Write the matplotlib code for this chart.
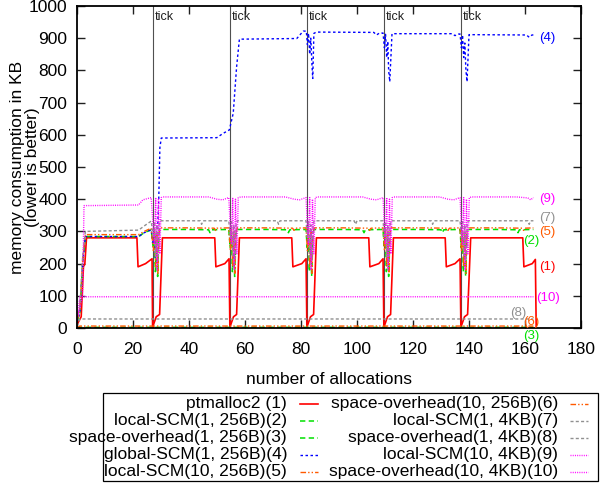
import matplotlib
matplotlib.use("Agg")
import matplotlib.pyplot as plt
from matplotlib.lines import Line2D
from matplotlib.patches import Rectangle

plt.rcParams['font.family'] = ['Liberation Sans', 'DejaVu Sans']

# ---------------- data ----------------
tick_x = [27, 54.5, 82, 109.5, 137]

x1 = [0, 1.5, 2.3, 2.8, 3.4, 21.4, 21.8, 24.5, 26.8,
      27.0, 27.3, 28.3, 29.5, 30.5, 49.2, 49.6, 52.8, 54.3,
      54.6, 54.9, 55.9, 57.0, 58.0, 76.7, 77.1, 80.3, 81.8,
      82.1, 82.4, 83.4, 84.5, 85.5, 104.2, 104.6, 107.8, 109.3,
      109.6, 109.9, 110.9, 112.0, 113.0, 131.5, 131.9, 135.0, 136.8,
      137.1, 137.4, 138.4, 139.5, 140.6, 159.2, 159.6, 162.6, 163.7, 164.0]
y1 = [10, 35, 190, 200, 280, 280, 190, 200, 215,
      0, 10, 35, 42, 280, 280, 190, 200, 215,
      0, 10, 35, 42, 280, 280, 190, 200, 215,
      0, 10, 35, 42, 280, 280, 190, 200, 215,
      0, 10, 35, 42, 280, 280, 190, 200, 215,
      0, 10, 35, 42, 280, 280, 190, 200, 213, 0]

x2 = [0, 1, 2, 3, 22, 24, 26.5,
      27.2, 27.6, 28.0, 28.4, 28.8, 29.2, 29.6, 40, 47, 47.5, 48, 54.2,
      54.7, 55.1, 55.5, 55.9, 56.3, 56.7, 57.1, 68, 75, 75.5, 76, 81.8,
      82.2, 82.6, 83.0, 83.4, 83.8, 84.2, 84.6, 95, 102, 102.5, 103, 109.3,
      109.7, 110.1, 110.5, 110.9, 111.3, 111.7, 112.1, 123, 130, 130.5, 131, 136.8,
      137.2, 137.6, 138.0, 138.4, 138.8, 139.2, 139.6, 150, 157, 157.5, 158, 163]
y2 = [20, 45, 200, 284, 284, 296, 305,
      250, 300, 175, 290, 160, 290, 306, 306, 305, 296, 305, 306,
      250, 300, 175, 290, 160, 290, 306, 306, 305, 296, 305, 306,
      250, 300, 175, 290, 160, 290, 306, 306, 305, 296, 305, 306,
      250, 300, 175, 290, 160, 290, 306, 306, 305, 296, 305, 306,
      250, 300, 175, 290, 160, 290, 306, 306, 305, 296, 305, 306]

x3 = [0, 1, 163]
y3 = [0, 2, 2]

x4 = [0, 1, 2, 3, 22, 24, 26.5,
      27.2, 27.6, 28.0, 28.4, 28.8, 29.2, 29.6, 30.1, 49.9, 52.3, 54.4,
      55.8, 57.0, 58.0, 78.5, 80.8, 81.9,
      82.3, 82.7, 83.1, 83.5, 83.9, 84.2, 84.6, 85.5, 106, 107, 108, 109.3,
      109.8, 110.2, 110.6, 111.0, 111.3, 111.7, 112.5, 134, 135, 136, 136.8,
      137.3, 137.7, 138.1, 138.5, 138.9, 139.3, 140, 160.5, 161.5, 162.5, 163]
y4 = [20, 45, 200, 284, 284, 296, 305,
      260, 300, 220, 300, 310, 400, 560, 590, 591, 605, 615,
      667, 811, 897, 899, 922, 922,
      880, 915, 850, 900, 820, 775, 915, 919, 918, 910, 916, 916,
      870, 912, 840, 890, 800, 765, 914, 914, 908, 913, 913,
      870, 910, 840, 885, 800, 765, 911, 910, 903, 910, 910]

x5 = [0, 1, 2, 3, 22, 24, 26.5,
      27.3, 27.7, 28.1, 28.5, 28.9, 29.3, 29.7, 40, 49, 49.5, 50, 54.2,
      54.8, 55.2, 55.6, 56.0, 56.4, 56.8, 57.2, 68, 77, 77.5, 78, 81.8,
      82.3, 82.7, 83.1, 83.5, 83.9, 84.3, 84.7, 95, 104, 104.5, 105, 109.3,
      109.8, 110.2, 110.6, 111.0, 111.4, 111.8, 112.2, 123, 132, 132.5, 133, 136.8,
      137.3, 137.7, 138.1, 138.5, 138.9, 139.3, 139.7, 150, 159, 159.5, 160, 163]
y5 = [25, 50, 210, 290, 290, 300, 310,
      240, 305, 190, 300, 170, 295, 311, 311, 310, 303, 310, 311,
      240, 305, 190, 300, 170, 295, 311, 311, 310, 303, 310, 311,
      240, 305, 190, 300, 170, 295, 311, 311, 310, 303, 310, 311,
      240, 305, 190, 300, 170, 295, 311, 311, 310, 303, 310, 311,
      240, 305, 190, 300, 170, 295, 311, 311, 310, 303, 310, 311]

x6 = [0, 1, 163]
y6 = [0, 6, 6]

x7 = [0, 1, 2, 3, 22, 24.5, 26.5,
      27.3, 27.7, 28.1, 28.5, 28.9, 29.3, 29.7, 40, 44, 44.5, 45, 54.2,
      54.8, 55.2, 55.6, 56.0, 56.4, 56.8, 57.2, 68, 71.5, 72, 72.5, 81.8,
      82.3, 82.7, 83.1, 83.5, 83.9, 84.3, 84.7, 95, 99, 99.5, 100, 109.3,
      109.8, 110.2, 110.6, 111.0, 111.4, 111.8, 112.2, 123, 126.5, 127, 127.5, 136.8,
      137.3, 137.7, 138.1, 138.5, 138.9, 139.3, 139.7, 150, 161, 161.5, 162, 163]
y7 = [30, 60, 220, 300, 304, 320, 332,
      280, 330, 220, 320, 210, 320, 333, 333, 333, 322, 333, 333,
      280, 330, 220, 320, 210, 320, 333, 333, 333, 322, 333, 333,
      280, 330, 220, 320, 210, 320, 333, 333, 333, 322, 333, 333,
      280, 330, 220, 320, 210, 320, 333, 333, 333, 322, 333, 333,
      280, 330, 220, 320, 210, 320, 333, 333, 333, 322, 333, 333]

x8 = [0, 1, 163]
y8 = [5, 28, 28]

x9 = [0, 1, 2, 2.5, 22, 23.5, 26.5,
      27.6, 28.1, 28.6, 29.1, 29.6, 30.1, 31, 47, 50, 52, 54.2,
      55.1, 55.6, 56.1, 56.6, 57.1, 57.6, 58.5, 74.5, 77.5, 79.5, 81.8,
      82.6, 83.1, 83.6, 84.1, 84.6, 85.1, 86, 102, 105, 107, 109.3,
      110.1, 110.6, 111.1, 111.6, 112.1, 112.6, 113.5, 129.5, 132.5, 134.5, 136.8,
      137.6, 138.1, 138.6, 139.1, 139.6, 140.1, 141, 157, 161, 162, 163]
y9 = [30, 60, 100, 380, 382, 398, 405,
      260, 405, 180, 400, 230, 405, 407, 407, 400, 398, 405,
      260, 405, 180, 400, 230, 405, 407, 407, 400, 398, 405,
      260, 405, 180, 400, 230, 405, 407, 407, 400, 398, 405,
      260, 405, 180, 400, 230, 405, 407, 407, 400, 398, 405,
      260, 405, 180, 400, 230, 405, 407, 407, 404, 398, 405]

x10 = [0, 1, 163]
y10 = [20, 97, 97]

series_labels = ["ptmalloc2 (1)", "local-SCM(1, 256B)(2)", "space-overhead(1, 256B)(3)",
                 "global-SCM(1, 256B)(4)", "local-SCM(10, 256B)(5)",
                 "space-overhead(10, 256B)(6)", "local-SCM(1, 4KB)(7)",
                 "space-overhead(1, 4KB)(8)", "local-SCM(10, 4KB)(9)",
                 "space-overhead(10, 4KB)(10)"]
end_tags = ["(1)", "(2)", "(3)", "(4)", "(5)", "(6)", "(7)", "(8)", "(9)", "(10)"]
tag_x = [167.9, 162.4, 162.2, 167.9, 167.9, 162.4, 167.9, 157.5, 167.9, 168.3]
tag_y = [190, 270, -25, 900, 298, 19, 341, 46, 400, 93]

xs = [x1, x2, x3, x4, x5, x6, x7, x8, x9, x10]
ys = [y1, y2, y3, y4, y5, y6, y7, y8, y9, y10]

# ---------------- styles ----------------
RED, GREEN, BLUE, ORANGE, GRAY, MAG = '#ff0000', '#00e000', '#0000ff', '#ff5a00', '#909090', '#ff00ff'
colors = [RED, GREEN, GREEN, BLUE, ORANGE, ORANGE, GRAY, GRAY, MAG, MAG]
dash_green = (0, (3.5, 2.2))
dash_blue = (0, (1.8, 1.8))
dash_or = (0, (4, 1.5, 1, 1.5, 1, 1.5))
dash_gray = (0, (2.2, 1.6))
dash_mag = (0, (0.7, 0.9))
styles = ['-', dash_green, dash_green, dash_blue, dash_or, dash_or, dash_gray, dash_gray, dash_mag, dash_mag]
widths = [1.2, 1.1, 1.1, 1.0, 1.0, 1.0, 1.0, 1.0, 1.0, 1.0]

fig = plt.figure(figsize=(6.0, 4.83), dpi=100)
ax = fig.add_axes([77/600, 1-328/483, (581-77)/600, (328-6)/483])

for tx in tick_x:
    ax.axvline(tx, color='#505050', lw=0.8, zorder=1)
    ax.text(tx + 0.6, 985, "tick", fontsize=9, ha='left', va='top', color='#202020')

for i in range(10):
    ax.plot(xs[i], ys[i], color=colors[i], linestyle=styles[i], lw=widths[i], zorder=2)
    ax.text(tag_x[i], tag_y[i], end_tags[i], color=colors[i], fontsize=9.5,
            ha='center', va='center', clip_on=False)

ax.set_xlim(0, 180)
ax.set_ylim(0, 1000)
ax.set_xticks(range(0, 181, 20))
ax.set_yticks(range(0, 1001, 100))
ax.tick_params(direction='in', top=True, right=True, length=6, width=1.0,
               labelsize=12.5, color='#202020')
ax.tick_params(axis='x', pad=10)
ax.tick_params(axis='y', pad=7)
for s in ax.spines.values():
    s.set_linewidth(1.3)
ax.set_xlabel("number of allocations", fontsize=12.5, labelpad=11)

W, H = 600.0, 483.0
def fx(px):
    return px / W
def fy(py):
    return 1 - py / H

fig.text(fx(25), fy(167), "memory consumption in KB\n(lower is better)", fontsize=12.5,
         rotation=90, ha='center', va='center', multialignment='center', linespacing=1.0)

# ---------------- manual legend (gnuplot style) ----------------
fig.add_artist(Rectangle((fx(103), fy(481)), (598-103)/W, (481-393)/H,
                         transform=fig.transFigure, fill=False, lw=0.9, ec='black'))
row_y = [403.5, 420.5, 437.5, 454.5, 471.5]
for i in range(10):
    col = i // 5
    r = i % 5
    text_right = 287 if col == 0 else 558
    s0, s1 = (300, 318) if col == 0 else (570, 588)
    fig.text(fx(text_right), fy(row_y[r]), series_labels[i], fontsize=12.5,
             ha='right', va='center')
    fig.add_artist(Line2D([fx(s0), fx(s1)], [fy(row_y[r]), fy(row_y[r])],
                          transform=fig.transFigure, color=colors[i],
                          linestyle=styles[i], lw=widths[i]))

fig.savefig("out.png", dpi=100)
